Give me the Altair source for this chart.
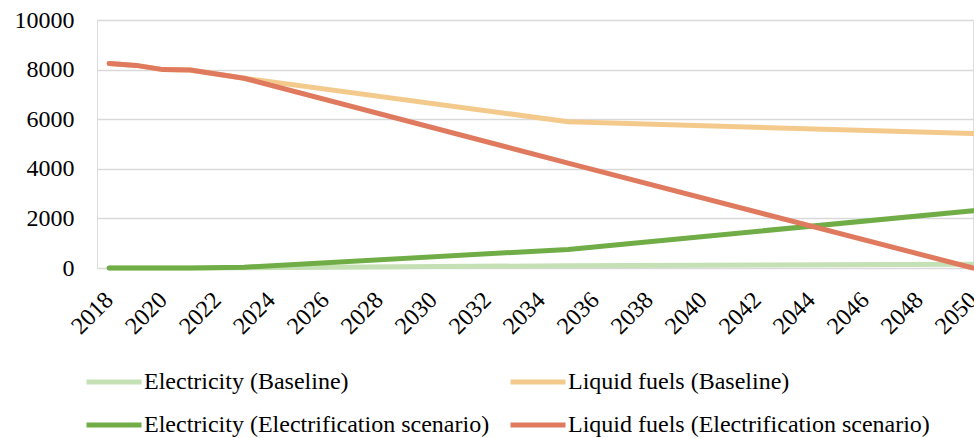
import altair as alt
import pandas as pd

# Years at which each series is sampled (slope changes between these points)
years = [2018, 2019, 2020, 2021, 2023, 2035, 2050]

elec_baseline = [0, 0, 0, 5, 10, 90, 150]
liquid_baseline = [8250, 8170, 8000, 7980, 7650, 5900, 5420]
elec_electrification = [0, 0, 0, 5, 30, 750, 2310]
liquid_electrification = [8250, 8170, 8000, 7980, 7650, 4230, 0]

# Drawing order: later series are painted on top
series_names = [
    "Electricity (Baseline)",
    "Liquid fuels (Baseline)",
    "Electricity (Electrification scenario)",
    "Liquid fuels (Electrification scenario)",
]
series_values = [elec_baseline, liquid_baseline, elec_electrification, liquid_electrification]
series_colors = {
    "Electricity (Baseline)": "#C5E0B4",
    "Liquid fuels (Baseline)": "#F4CA8C",
    "Electricity (Electrification scenario)": "#70AD47",
    "Liquid fuels (Electrification scenario)": "#E07A5F",
}
# Legend fills column by column: first column electricity, second liquid fuels
legend_order = [
    "Electricity (Baseline)",
    "Electricity (Electrification scenario)",
    "Liquid fuels (Baseline)",
    "Liquid fuels (Electrification scenario)",
]

x_ticks = list(range(2018, 2051, 2))
y_ticks = [0, 2000, 4000, 6000, 8000, 10000]

rows = []
for name, vals in zip(series_names, series_values):
    for yr, v in zip(years, vals):
        rows.append({"Year": yr, "Value": v, "Series": name})
df = pd.DataFrame(rows)

FONT = "Times New Roman, Liberation Serif, serif"

chart = (
    alt.Chart(df)
    .mark_line(strokeWidth=5, strokeCap="round", strokeJoin="round", clip=False)
    .encode(
        x=alt.X(
            "Year:Q",
            scale=alt.Scale(domain=[2017.55, 2050], nice=False, zero=False),
            axis=alt.Axis(
                values=x_ticks,
                format="d",
                labelAngle=-45,
                labelAlign="right",
                labelBaseline="middle",
                labelPadding=28,
                labelFontSize=24,
                labelFont=FONT,
                labelColor="#000000",
                labelOverlap=False,
                labelBound=False,
                labelFlush=False,
                domain=False,
                ticks=False,
                grid=False,
                title=None,
            ),
        ),
        y=alt.Y(
            "Value:Q",
            scale=alt.Scale(domain=[0, 10000], nice=False),
            axis=alt.Axis(
                values=y_ticks,
                format="d",
                labelFontSize=24,
                labelFont=FONT,
                labelColor="#000000",
                labelPadding=23,
                domain=False,
                ticks=False,
                grid=True,
                gridColor="#D9D9D9",
                gridWidth=1.5,
                title=None,
            ),
        ),
        color=alt.Color(
            "Series:N",
            scale=alt.Scale(domain=legend_order, range=[series_colors[s] for s in legend_order]),
            legend=alt.Legend(
                title=None,
                orient="none",
                legendX=-13,
                legendY=332,
                columns=2,
                columnPadding=10,
                rowPadding=1,
                symbolType="stroke",
                symbolSize=3025,
                symbolStrokeWidth=5,
                labelFont=FONT,
                labelFontSize=24,
                labelColor="#000000",
                labelLimit=600,
                labelOffset=0,
            ),
        ),
    )
    .properties(
        width=876,
        height=248,
        autosize=alt.AutoSizeParams(type="none"),
        padding={"left": 97, "top": 20, "right": 1, "bottom": 170},
    )
    .configure_view(stroke=None)
    .configure(background="white")
)

chart.save("out.html", embed_options={"renderer": "svg", "actions": False})
